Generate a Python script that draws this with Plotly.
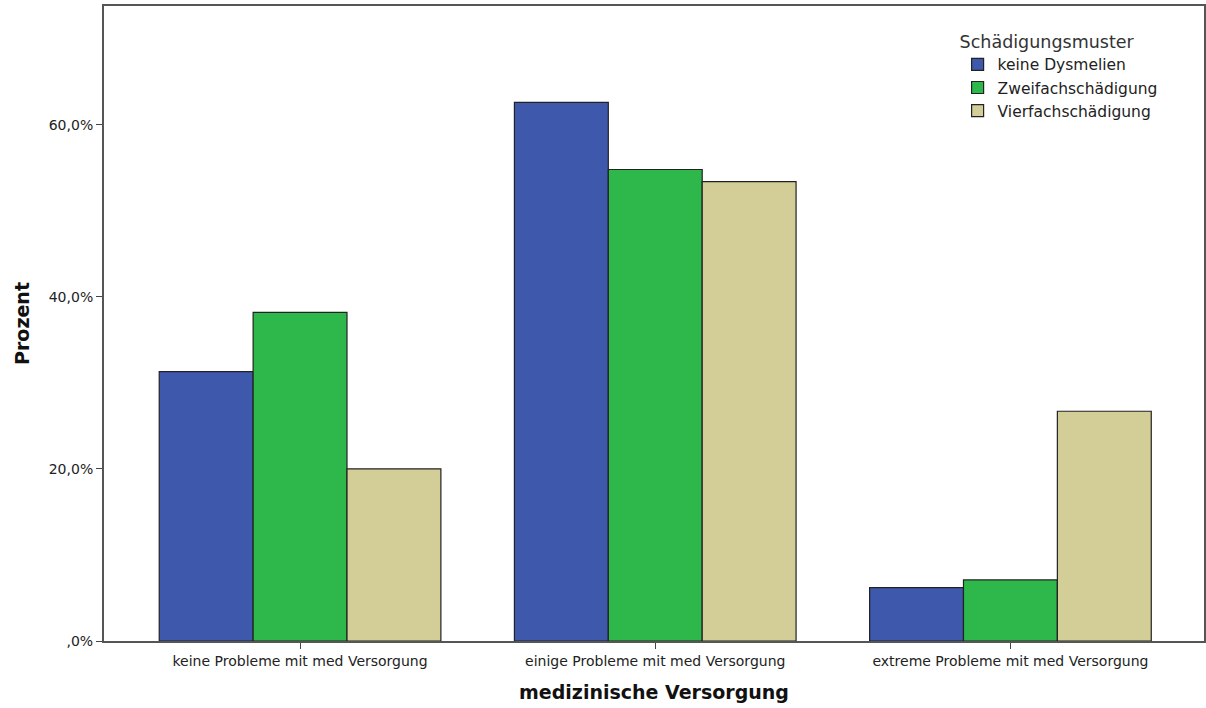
import plotly.graph_objects as go

categories = ["keine Probleme mit med Versorgung", "einige Probleme mit med Versorgung", "extreme Probleme mit med Versorgung"]
series_names = ["keine Dysmelien", "Zweifachschädigung", "Vierfachschädigung"]
keine_dysmelien = [31.3, 62.6, 6.2]
zweifach = [38.2, 54.8, 7.1]
vierfach = [20.0, 53.4, 26.7]
colors = ["#3E58AC", "#2EB84B", "#D3CE97"]
tick_vals = [0, 20, 40, 60]
tick_text = [",0%", "20,0%", "40,0%", "60,0%"]

fig = go.Figure()
for name, vals, col in zip(series_names, [keine_dysmelien, zweifach, vierfach], colors):
    fig.add_trace(go.Bar(x=categories, y=vals, name=name, marker=dict(color=col, line=dict(color="#222222", width=1.2))))

fig.update_layout(
    width=1206, height=708,
    margin=dict(l=104, r=0, t=6, b=67),
    paper_bgcolor="white", plot_bgcolor="white",
    barmode="group", bargap=0.207, bargroupgap=0,
    font=dict(family="DejaVu Sans", color="#222222"),
    legend=dict(
        title=dict(text="Schädigungsmuster", font=dict(size=17.5, color="#333")),
        x=0.776, y=0.97, xanchor="left", yanchor="top",
        font=dict(size=15.5, color="#222"), tracegroupgap=0, itemwidth=30,
        bgcolor="rgba(0,0,0,0)",
    ),
    xaxis=dict(
        range=[-0.552, 2.545], showline=True, linecolor="#555", linewidth=2, mirror=True,
        ticks="outside", ticklen=6, tickcolor="#444", tickfont=dict(size=14, color="#222"),
        title=dict(text="<b>medizinische Versorgung</b>", font=dict(size=19, color="#111"), standoff=18),
        showgrid=False,
    ),
    yaxis=dict(
        range=[0, 73.8], showline=True, linecolor="#555", linewidth=2, mirror=True,
        ticks="outside", ticklen=6, tickcolor="#444", tickvals=tick_vals, ticktext=tick_text,
        tickfont=dict(size=14, color="#222"), showgrid=False, zeroline=False,
        title=dict(text="<b>Prozent</b>", font=dict(size=19, color="#111"), standoff=14),
    ),
)
fig.write_html(
    "out.html",
    config={"responsive": False, "displayModeBar": False},
    post_script="document.body.style.margin='0';document.body.style.padding='0';document.body.style.overflow='hidden';document.documentElement.style.overflow='hidden';",
)
